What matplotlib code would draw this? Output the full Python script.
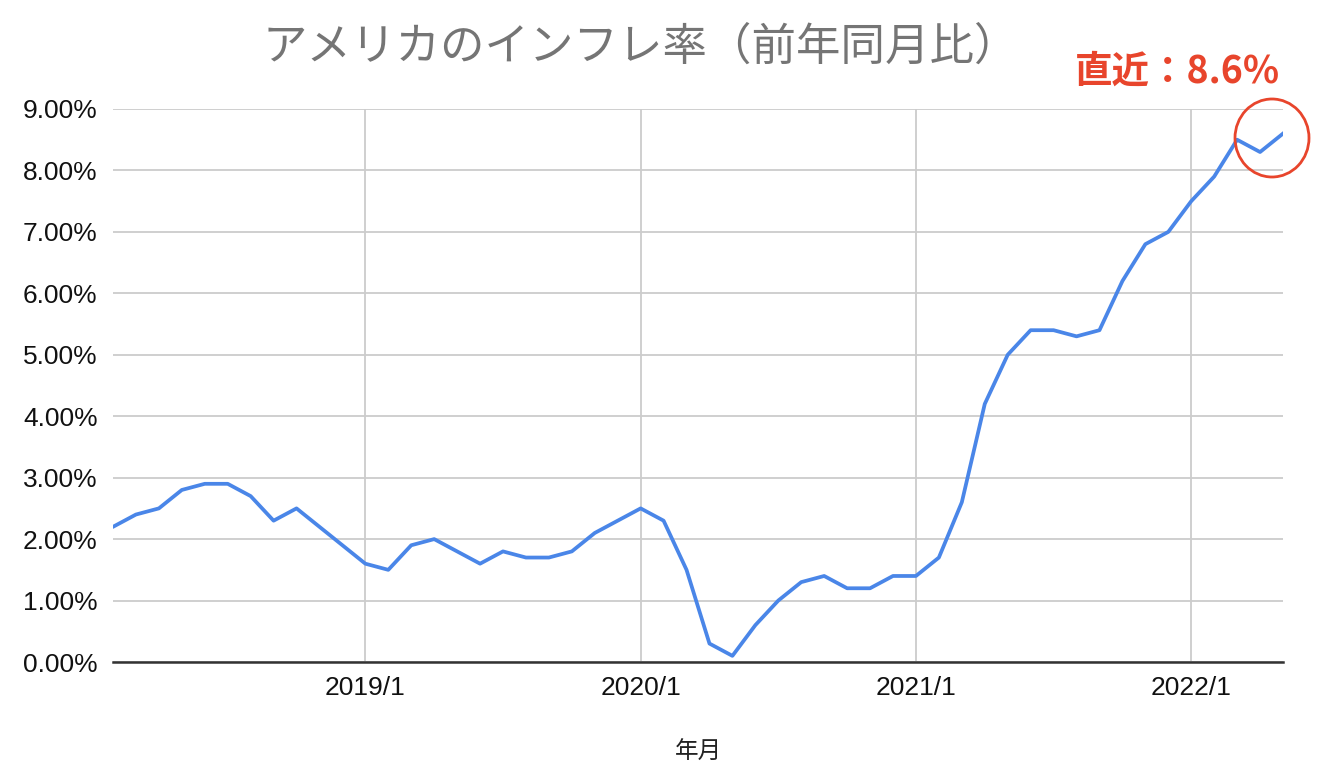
import matplotlib.pyplot as plt
import numpy as np
from matplotlib.patches import Ellipse
from matplotlib.ticker import FuncFormatter

plt.rcParams["font.family"] = ["Liberation Sans", "Noto Sans CJK JP", "DejaVu Sans"]

# US CPI, year-over-year (%), monthly from 2018/1 to 2022/5
months = [f"{y}/{m}" for y in range(2018, 2023) for m in range(1, 13)][:53]
cpi_yoy = [
    2.1, 2.2, 2.4, 2.5, 2.8, 2.9, 2.9, 2.7, 2.3, 2.5, 2.2, 1.9,
    1.6, 1.5, 1.9, 2.0, 1.8, 1.6, 1.8, 1.7, 1.7, 1.8, 2.1, 2.3,
    2.5, 2.3, 1.5, 0.3, 0.1, 0.6, 1.0, 1.3, 1.4, 1.2, 1.2, 1.4,
    1.4, 1.7, 2.6, 4.2, 5.0, 5.4, 5.4, 5.3, 5.4, 6.2, 6.8, 7.0,
    7.5, 7.9, 8.5, 8.3, 8.6,
]
tick_labels = ["2019/1", "2020/1", "2021/1", "2022/1"]
y_ticks = list(range(0, 10))

title = "アメリカのインフレ率（前年同月比）"
xlabel = "年月"
note = "直近：8.6%"

BLUE = "#4a86e8"
RED = "#e8452c"
GRID = "#cccccc"
CJK = ["Noto Sans CJK JP", "DejaVu Sans"]

x = np.arange(len(months))
tick_pos = [months.index(t) for t in tick_labels]

fig = plt.figure(figsize=(13.24, 7.84), dpi=100)
ax = fig.add_axes([113 / 1324, 1 - 662 / 784, (1283 - 113) / 1324, (662 - 109) / 784])

ax.plot(x, cpi_yoy, color=BLUE, linewidth=2.7, solid_joinstyle="round", zorder=3)
ax.set_xlim(1, len(months) - 1)
ax.set_ylim(0, 9)

ax.set_yticks(y_ticks)
ax.yaxis.set_major_formatter(FuncFormatter(lambda v, _: f"{v:.2f}%"))
ax.set_xticks(tick_pos, tick_labels)
ax.tick_params(axis="y", length=0, pad=11, labelsize=19, labelcolor="#111111")
ax.tick_params(axis="x", length=0, pad=10, labelsize=19, labelcolor="#111111")

ax.grid(True, color=GRID, linewidth=1.3, zorder=0)
for side in ["top", "right", "left"]:
    ax.spines[side].set_visible(False)
ax.spines["bottom"].set_color("#333333")
ax.spines["bottom"].set_linewidth(1.8)
ax.spines["bottom"].set_zorder(4)

fig.text(641 / 1324, 1 - 47 / 784, title, ha="center", va="center",
         fontsize=32, color="#757575", family=CJK)
fig.text(698 / 1324, 1 - 752 / 784, xlabel, ha="center", va="center",
         fontsize=17, color="#222222", family=CJK)
fig.text(1177 / 1324, 1 - 71 / 784, note, ha="center", va="center",
         fontsize=27, color=RED, fontweight="bold", family=CJK)

# highlight circle around the latest values (figure pixel coords)
circle = Ellipse((1272 / 1324, 1 - 138 / 784), 74 / 1324, 78 / 784, transform=fig.transFigure,
                 fill=False, edgecolor=RED, linewidth=2, zorder=5)
fig.patches.append(circle)

fig.savefig("out.png", dpi=100)
